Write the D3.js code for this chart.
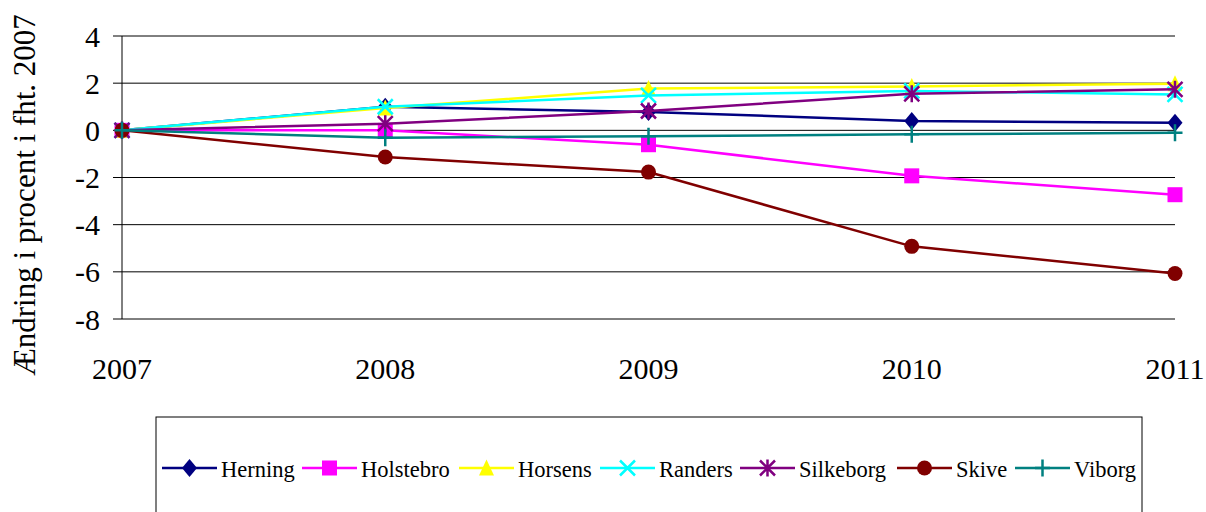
<!DOCTYPE html>
<html>
<head>
<meta charset="utf-8">
<script src="https://cdn.jsdelivr.net/npm/d3@7"></script>
<style>
  body { margin: 0; background: #fff; }
</style>
</head>
<body>
<svg id="chart" width="1206" height="512"></svg>
<script>
// data
const years = ["2007", "2008", "2009", "2010", "2011"];
const yTicks = [4, 2, 0, -2, -4, -6, -8];
const herning   = [0, 1.00, 0.78, 0.40, 0.32];
const holstebro = [0, 0.00, -0.61, -1.93, -2.73];
const horsens   = [0, 0.95, 1.77, 1.86, 1.98];
const randers   = [0, 1.00, 1.48, 1.67, 1.52];
const silkeborg = [0, 0.28, 0.82, 1.55, 1.74];
const skive     = [0, -1.13, -1.77, -4.92, -6.07];
const viborg    = [0, -0.31, -0.25, -0.17, -0.10];
const yLabel = "Ændring i procent i fht. 2007";

let series = [
  {name: "Herning", values: herning, color: "#000080", sym: "diamond"},
  {name: "Holstebro", values: holstebro, color: "#ff00ff", sym: "square"},
  {name: "Horsens", values: horsens, color: "#ffff00", sym: "triangle"},
  {name: "Randers", values: randers, color: "#00ffff", sym: "x"},
  {name: "Silkeborg", values: silkeborg, color: "#800080", sym: "star"},
  {name: "Skive", values: skive, color: "#800000", sym: "circle"},
  {name: "Viborg", values: viborg, color: "#008080", sym: "plus"}
];

let serif = "'Liberation Serif', 'Times New Roman', serif";
let margin = {left: 122, right: 31, top: 36, bottom: 193};
let width = 1206, height = 512;

let svg = d3.select("#chart");

let x = d3.scalePoint().domain(years).range([margin.left, width - margin.right]);
let y = d3.scaleLinear().domain([-8, 4]).range([height - margin.bottom, margin.top]);

// grid lines + tick stubs
svg.append("g").selectAll("line").data(yTicks).enter().append("line")
   .attr("x1", margin.left - 9).attr("x2", width - margin.right)
   .attr("y1", d => y(d)).attr("y2", d => y(d))
   .attr("stroke", "#000").attr("stroke-width", 1);

// y axis line
svg.append("line")
   .attr("x1", margin.left).attr("x2", margin.left)
   .attr("y1", y(4)).attr("y2", y(-8))
   .attr("stroke", "#000").attr("stroke-width", 1);

// y tick labels
svg.append("g").selectAll("text").data(yTicks).enter().append("text")
   .attr("x", 100).attr("y", d => y(d)).attr("dy", "0.35em")
   .attr("text-anchor", "end").attr("font-size", 30).attr("font-family", serif)
   .text(d => d);

// x tick labels
svg.append("g").selectAll("text").data(years).enter().append("text")
   .attr("x", d => x(d)).attr("y", 379)
   .attr("text-anchor", "middle").attr("font-size", 30).attr("font-family", serif)
   .text(d => d);

// y axis title
svg.append("text")
   .attr("transform", "translate(35," + 195 + ")rotate(-90)")
   .attr("text-anchor", "middle").attr("font-size", 31).attr("font-family", serif)
   .text(yLabel);

function drawMarker(g, sym, color, cx, cy, s) {
  let h = s / 2;
  if (sym == "diamond") {
    g.append("path").attr("d", `M${cx},${cy-h-1.5}L${cx+h},${cy}L${cx},${cy+h+1.5}L${cx-h},${cy}Z`).attr("fill", color);
  } else if (sym == "square") {
    g.append("rect").attr("x", cx - h).attr("y", cy - h).attr("width", s).attr("height", s).attr("fill", color);
  } else if (sym == "triangle") {
    g.append("path").attr("d", `M${cx},${cy-h-1}L${cx+h},${cy+h}L${cx-h},${cy+h}Z`).attr("fill", color);
  } else if (sym == "circle") {
    g.append("circle").attr("cx", cx).attr("cy", cy).attr("r", h).attr("fill", color);
  } else if (sym == "x") {
    g.append("path").attr("d", `M${cx-h},${cy-h}L${cx+h},${cy+h}M${cx-h},${cy+h}L${cx+h},${cy-h}`)
     .attr("stroke", color).attr("stroke-width", 2.5);
  } else if (sym == "star") {
    g.append("path").attr("d", `M${cx-h},${cy-h}L${cx+h},${cy+h}M${cx-h},${cy+h}L${cx+h},${cy-h}M${cx},${cy-h-1}L${cx},${cy+h+1}`)
     .attr("stroke", color).attr("stroke-width", 2.5);
  } else if (sym == "plus") {
    g.append("path").attr("d", `M${cx},${cy-h-1}L${cx},${cy+h+1}M${cx-h},${cy}L${cx+h},${cy}`)
     .attr("stroke", color).attr("stroke-width", 2.5);
  }
}

let line = d3.line()
  .x((d, i) => x(years[i]))
  .y(d => y(d));

let plot = svg.append("g");
series.forEach((s) => {
  let g = plot.append("g");
  g.append("path").attr("d", line(s.values))
   .attr("fill", "none").attr("stroke", s.color).attr("stroke-width", 2.5);
  s.values.forEach((v, i) => {
    drawMarker(g, s.sym, s.color, x(years[i]), y(v), 15);
  });
});

// legend
let legend = svg.append("g");
legend.append("rect")
   .attr("x", 156).attr("y", 417).attr("width", 986).attr("height", 110)
   .attr("fill", "none").attr("stroke", "#000").attr("stroke-width", 1);

let legendX = [162, 302, 459, 600, 740, 897, 1015];
let ly = 468;
series.forEach((s, i) => {
  let lx = legendX[i];
  legend.append("line").attr("x1", lx).attr("x2", lx + 55).attr("y1", ly).attr("y2", ly)
        .attr("stroke", s.color).attr("stroke-width", 2.5);
  drawMarker(legend, s.sym, s.color, lx + 27.5, ly, 15);
  legend.append("text").attr("x", lx + 59).attr("y", 476.5)
        .attr("font-size", 22.5).attr("font-family", serif).text(s.name);
});
</script>
</body>
</html>
